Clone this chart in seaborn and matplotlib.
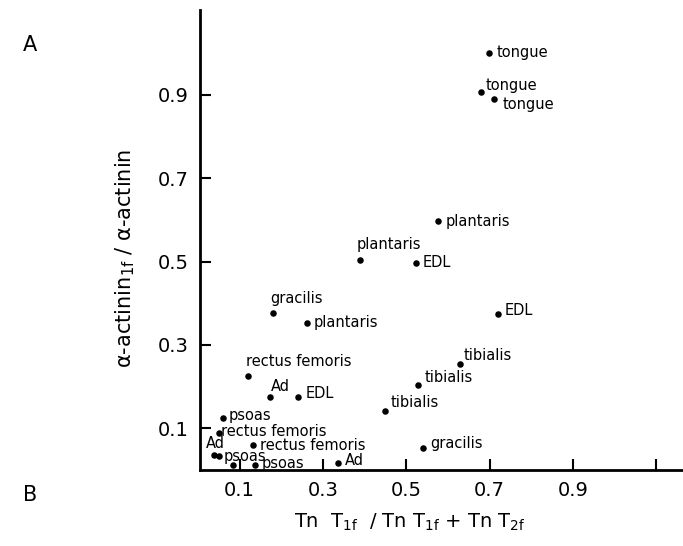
import matplotlib
matplotlib.use("Agg")
import matplotlib.pyplot as plt
import seaborn as sns
import pandas as pd

# ---- data ----
muscle = ["tongue", "tongue", "tongue", "plantaris", "plantaris", "EDL", "EDL",
          "tibialis", "gracilis", "plantaris", "rectus femoris", "Ad", "EDL",
          "tibialis", "tibialis", "psoas", "rectus femoris", "Ad", "psoas", "",
          "rectus femoris", "gracilis", "Ad", "psoas"]
tnt_ratio = [0.698, 0.680, 0.711, 0.577, 0.389, 0.523, 0.720,
             0.628, 0.180, 0.261, 0.119, 0.172, 0.241,
             0.527, 0.449, 0.060, 0.050, 0.038, 0.050, 0.084,
             0.132, 0.540, 0.336, 0.137]
actinin_ratio = [1.001, 0.907, 0.891, 0.597, 0.503, 0.497, 0.375,
                 0.255, 0.378, 0.354, 0.225, 0.175, 0.175,
                 0.205, 0.142, 0.124, 0.090, 0.035, 0.033, 0.013,
                 0.059, 0.054, 0.016, 0.011]
x_ticks = [0.1, 0.3, 0.5, 0.7, 0.9, 1.1]
x_ticklabels = ["0.1", "0.3", "0.5", "0.7", "0.9", ""]
y_ticks = [0.1, 0.3, 0.5, 0.7, 0.9]
y_ticklabels = ["0.1", "0.3", "0.5", "0.7", "0.9"]

# label offsets in pixels (layout only)
label_offsets = [(8, 0), (4, 7), (8, -6), (7, 0), (-3, 16), (7, 0), (7, 3),
                 (4, 8), (-3, 14), (7, 0), (-2, 15), (1, 11), (7, 4),
                 (7, 7), (6, 8), (6, 3), (2, 1), (-8, 12), (5, 0), (0, 0),
                 (7, 0), (7, 4), (7, 3), (7, 2)]

df = pd.DataFrame({"tnt": tnt_ratio, "act": actinin_ratio, "muscle": muscle})

sns.set_style("ticks")
plt.rcParams["font.family"] = ["DejaVu Sans"]
plt.rcParams["mathtext.default"] = "regular"
plt.rcParams["text.color"] = "black"
plt.rcParams["axes.labelcolor"] = "black"

fig = plt.figure(figsize=(6.83, 5.46), dpi=100)
ax = fig.add_axes([200 / 683, 76 / 546, 483 / 683, 460 / 546])

sns.scatterplot(data=df, x="tnt", y="act", color="black", s=22,
                edgecolor="black", linewidth=0, ax=ax, legend=False)

for xv, yv, lab, (dx, dy) in zip(tnt_ratio, actinin_ratio, muscle, label_offsets):
    if lab:
        ax.annotate(lab, (xv, yv), xytext=(dx, dy), textcoords="offset pixels",
                    ha="left", va="center", fontsize=10.5, color="black")

ax.set_xlim(0.005, 1.164)
ax.set_ylim(0.0, 1.104)
ax.set_xticks(x_ticks)
ax.set_xticklabels(x_ticklabels)
ax.set_yticks(y_ticks)
ax.set_yticklabels(y_ticklabels)
ax.tick_params(direction="in", length=8, width=1.5, labelsize=14, pad=8,
               color="black", labelcolor="black")
sns.despine(ax=ax)
for sp in ["left", "bottom"]:
    ax.spines[sp].set_linewidth(2)
    ax.spines[sp].set_color("black")

ax.set_xlabel(r"Tn  T$_{1f}$  / Tn T$_{1f}$ + Tn T$_{2f}$", fontsize=14,
              color="black")
ax.xaxis.set_label_coords(0.435, -0.09)
ax.set_ylabel(r"α-actinin$_{1f}$ / α-actinin", fontsize=15, color="black")
ax.yaxis.set_label_coords(-0.13, 0.461)

fig.text(30 / 683, 1 - 45 / 546, "A", fontsize=15, ha="center", va="center",
         color="black")
fig.text(30 / 683, 1 - 495 / 546, "B", fontsize=15, ha="center", va="center",
         color="black")

fig.savefig("out.png", dpi=100)
